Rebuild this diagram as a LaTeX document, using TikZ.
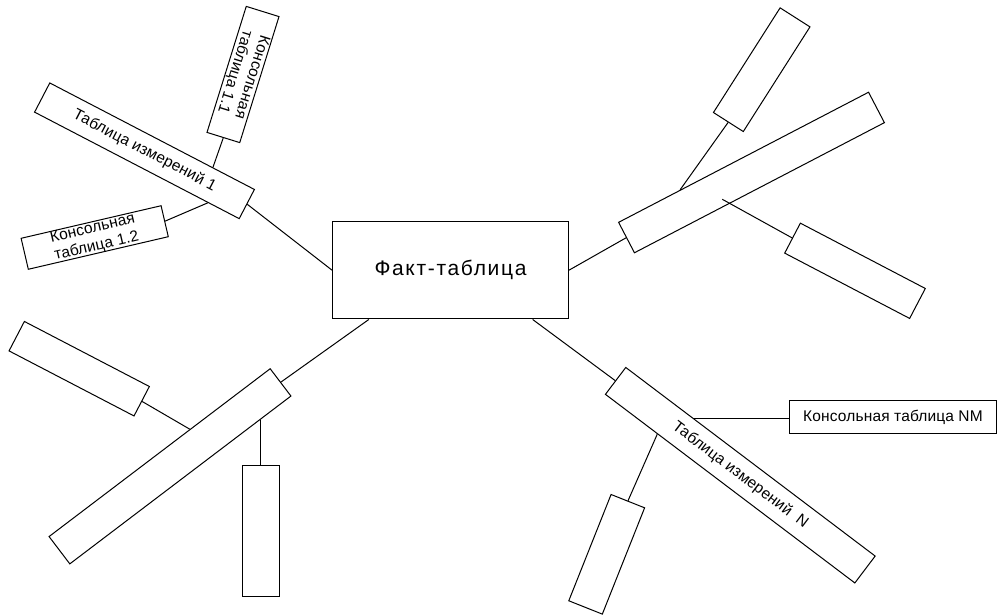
\documentclass[tikz,border=0pt]{standalone}
\usepackage{fontspec}
\setmainfont{Liberation Sans}
\newfontfamily\bigfont[LetterSpace=8]{Liberation Sans}
\newfontfamily\smallfont[LetterSpace=1]{Liberation Sans}
\usetikzlibrary{calc}
\begin{document}
\begin{tikzpicture}[x=1pt,y=-1pt,
  tbl/.style={draw, fill=white, line width=1pt, inner sep=0pt, align=center,
    font=\smallfont\fontsize{15.5}{18}\selectfont},
  conn/.style={draw, line width=1pt}]
\fill[white] (0,0) rectangle (997,615);
\useasboundingbox (0,0) rectangle (997,615);
\node[tbl, minimum width=235.6, minimum height=97.3, font=\bigfont\fontsize{21}{25}\selectfont] (fact) at (450.5,270.3) {Факт-таблица};
\node[tbl, rotate=-27.5, minimum width=230.7, minimum height=32.9] (d1) at (144.5,150.8) {Таблица измерений 1};
\node[tbl, rotate=-107.3, minimum width=132, minimum height=34.3] (c11) at (243,74.5) {Консольная\\таблица 1.1};
\node[tbl, rotate=13.1, minimum width=143.7, minimum height=31.8] (c12) at (94.7,237.5) {Консольная\\таблица 1.2};
\node[tbl, rotate=27.5, minimum width=281.8, minimum height=34.3] (dr) at (751.5,172.5) {};
\node[tbl, rotate=57.5, minimum width=124.1, minimum height=35.4] (tr1) at (761.7,69.7) {};
\node[tbl, rotate=-27.6, minimum width=141, minimum height=33.8] (tr2) at (855,270.8) {};
\node[tbl, rotate=37.2, minimum width=277.6, minimum height=34.3] (dbl) at (170,466.3) {};
\node[tbl, rotate=-27.5, minimum width=140.9, minimum height=33.2] (bl1) at (79.2,368.7) {};
\node[tbl, minimum width=36.7, minimum height=130.7] (bl2) at (260.7,531.3) {};
\node[tbl, rotate=-37.1, minimum width=312.7, minimum height=33.7] (dn) at (740.3,475.2) {Таблица измерений\ \ N};
\node[tbl, minimum width=207.3, minimum height=32.7] (nm) at (893,417) {Консольная таблица NM};
\node[tbl, rotate=68.3, minimum width=114.4, minimum height=36.1] (br1) at (606.7,554.3) {};
\draw[conn] (fact.west) -- (d1.east);
\draw[conn] (fact.east) -- (dr.west);
\draw[conn] ($(fact.south west)!0.155!(fact.south east)$) -- (dbl.east);
\draw[conn] ($(fact.south west)!0.847!(fact.south east)$) -- (dn.west);
\draw[conn] ($(d1.north west)!0.795!(d1.north east)$) -- (c11.east);
\draw[conn] ($(d1.south west)!0.846!(d1.south east)$) -- (c12.east);
\draw[conn] ($(dr.north west)!0.248!(dr.north east)$) -- (tr1.west);
\coordinate (drin) at (722.3,199.3);
\draw[conn] (drin) -- (tr2.west);
\draw[conn] ($(dbl.north west)!0.637!(dbl.north east)$) -- (bl1.east);
\draw[conn] ($(dbl.south west)!0.859!(dbl.south east)$) coordinate (dbls) -- (dbls |- bl2.north);
\draw[conn] ($(dn.north west)!0.271!(dn.north east)$) coordinate (dnm) -- (dnm -| nm.west);
\draw[conn] ($(dn.south west)!0.21!(dn.south east)$) -- (br1.east);
\end{tikzpicture}
\end{document}
